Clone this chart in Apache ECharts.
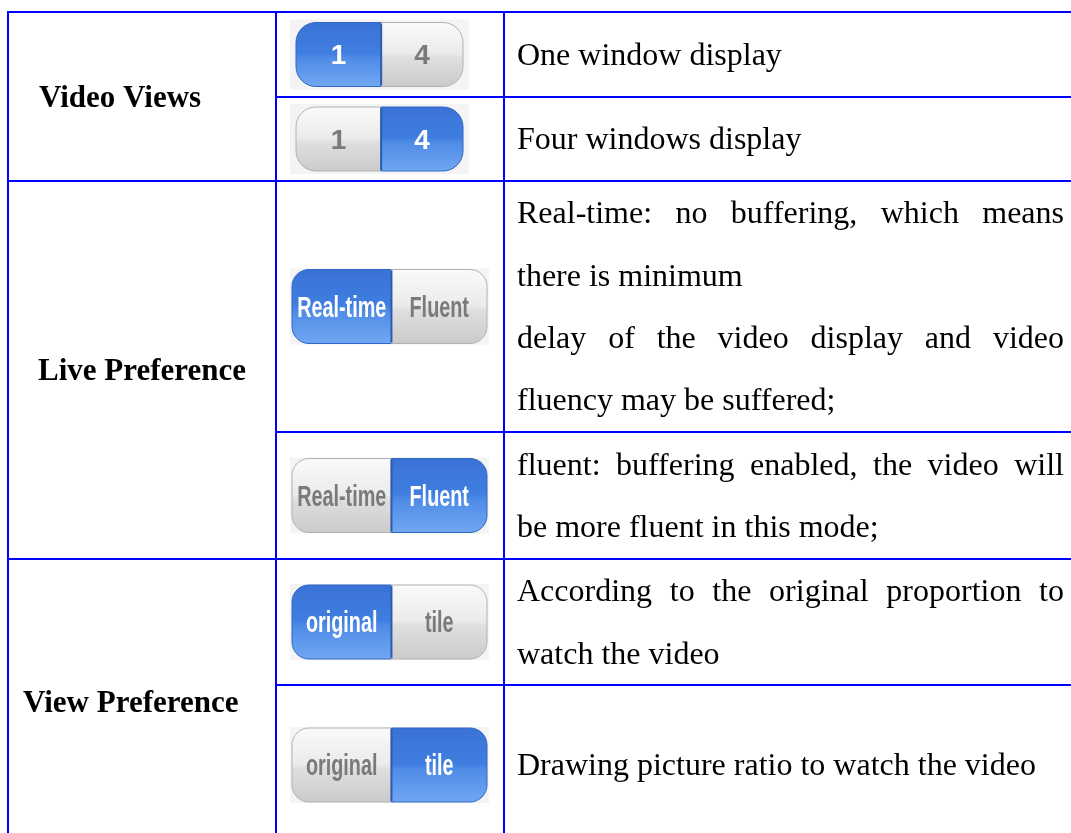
<!DOCTYPE html>
<html><head><meta charset="utf-8">
<script src="https://cdn.jsdelivr.net/npm/echarts@6/dist/echarts.min.js"></script>
<style>html,body{margin:0;padding:0;background:#fff}#c{width:1071px;height:833px}</style>
</head><body><div id="c"></div><script>
// ---- data ----
const groupLabels = ['Video Views', 'Live Preference', 'View Preference'];
const groupRowSpans = [[0, 1], [2, 3], [4, 5]];
const toggleLeft = ['1', '1', 'Real-time', 'Real-time', 'original', 'original'];
const toggleRight = ['4', '4', 'Fluent', 'Fluent', 'tile', 'tile'];
const toggleSelected = ['left', 'right', 'left', 'right', 'left', 'right'];
const descriptionLines = [
  ['One window display'],
  ['Four windows display'],
  ['Real-time: no buffering, which means', 'there is minimum', 'delay of the video display and video', 'fluency may be suffered;'],
  ['fluent: buffering enabled, the video will', 'be more fluent in this mode;'],
  ['According to the original proportion to', 'watch the video'],
  ['Drawing picture ratio to watch the video']
];
const justifiedLines = [[false], [false], [true, false, true, false], [true, false], [true, false], [false]];

// ---- layout / style ----
const layout = {
  colX: [8, 276, 504, 1077],
  rowY: [12, 97, 181, 432, 559, 685, 845],
  labelX: [39, 38, 23],
  textX: 517, textRight: 1064, lineGap: 62.3, textShift: 2,
  border: '#0000ff', borderW: 2,
  bodyFont: '32px "Times New Roman", "Liberation Serif", serif',
  labelFont: 'bold 31px "Times New Roman", "Liberation Serif", serif',
  btnX: 290,
  small: { w: 179, h: 70, padX: 6, padY: 3, r: 20, font: 'bold 28px Arial, "Liberation Sans", sans-serif', scaleX: 1 },
  large: { w: 199, h: 76, padX: 2, padY: 1, r: 17, font: 'bold 30px Arial, "Liberation Sans", sans-serif', scaleX: 0.66 }
};
const blueFill = { type: 'linear', x: 0, y: 0, x2: 0, y2: 1, colorStops: [
  { offset: 0, color: '#3a72d5' }, { offset: 0.48, color: '#3f7ee0' },
  { offset: 0.56, color: '#4f8ce7' }, { offset: 1, color: '#72a8f2' }] };
const grayFill = { type: 'linear', x: 0, y: 0, x2: 0, y2: 1, colorStops: [
  { offset: 0, color: '#fafafa' }, { offset: 0.48, color: '#ebebeb' },
  { offset: 0.56, color: '#dedede' }, { offset: 1, color: '#cbcbcb' }] };

const measureCtx = document.createElement('canvas').getContext('2d');
function measure(t, font) { measureCtx.font = font; return measureCtx.measureText(t).width; }

const chart = echarts.init(document.getElementById('c'), null, { renderer: 'canvas' });
const rowIdx = descriptionLines.map((d, i) => [i, i]);

function renderGrid(params, api) {
  const i = params.dataIndex;
  const c = layout.colX, r = layout.rowY;
  const firstInGroup = groupRowSpans.some(s => s[0] === i);
  const children = [];
  const style = { stroke: layout.border, lineWidth: layout.borderW };
  const a = api.coord([firstInGroup ? c[0] - 1 : c[1], r[i]]);
  const b = api.coord([c[3] + 1, r[i]]);
  children.push({ type: 'line', shape: { x1: a[0], y1: a[1], x2: b[0], y2: b[1] }, style });
  if (i === r.length - 2) {
    const a2 = api.coord([c[0] - 1, r[i + 1]]), b2 = api.coord([c[3] + 1, r[i + 1]]);
    children.push({ type: 'line', shape: { x1: a2[0], y1: a2[1], x2: b2[0], y2: b2[1] }, style });
  }
  c.forEach(x => {
    const p = api.coord([x, r[i]]), q = api.coord([x, r[i + 1]]);
    children.push({ type: 'line', shape: { x1: p[0], y1: p[1], x2: q[0], y2: q[1] }, style });
  });
  return { type: 'group', children };
}

function renderLabel(params, api) {
  const g = params.dataIndex;
  const span = groupRowSpans[g];
  const mid = (layout.rowY[span[0]] + layout.rowY[span[1] + 1]) / 2 + layout.textShift;
  const p = api.coord([layout.labelX[g], mid]);
  return { type: 'text', style: { text: groupLabels[g], x: p[0], y: p[1], font: layout.labelFont, fill: '#000', align: 'left', verticalAlign: 'middle' } };
}

function segText(txt, cx, cy, sel, g) {
  return {
    type: 'text', x: cx, y: cy, scaleX: g.scaleX,
    style: {
      text: txt, x: 0, y: 0, align: 'center', verticalAlign: 'middle', font: g.font,
      fill: sel ? '#ffffff' : '#7a7a7a',
      textShadowColor: sel ? 'rgba(0,0,0,0.25)' : '#ffffff', textShadowOffsetY: sel ? -1 : 1, textShadowBlur: 0
    }
  };
}

function renderToggle(params, api) {
  const i = params.dataIndex;
  const g = i < 2 ? layout.small : layout.large;
  const mid = (layout.rowY[i] + layout.rowY[i + 1]) / 2;
  const p0 = api.coord([layout.btnX, mid - g.h / 2]);
  const p1 = api.coord([layout.btnX + g.w, mid + g.h / 2]);
  const bw = p1[0] - p0[0], bh = p1[1] - p0[1];
  const px = p0[0] + g.padX, py = p0[1] + g.padY, pw = bw - 2 * g.padX, ph = bh - 2 * g.padY;
  const split = px + pw * 0.51;
  const leftSel = toggleSelected[i] === 'left';
  const children = [
    { type: 'rect', shape: { x: p0[0], y: p0[1], width: bw, height: bh }, style: { fill: '#f4f4f4' } },
    { type: 'rect', shape: { x: px, y: py, width: split - px, height: ph, r: [g.r, 0, 0, g.r] },
      style: { fill: leftSel ? blueFill : grayFill, stroke: leftSel ? '#3066c4' : '#b2b2b2', lineWidth: 1 } },
    { type: 'rect', shape: { x: split, y: py, width: px + pw - split, height: ph, r: [0, g.r, g.r, 0] },
      style: { fill: leftSel ? grayFill : blueFill, stroke: leftSel ? '#b2b2b2' : '#3066c4', lineWidth: 1 } },
    { type: 'line', shape: { x1: split, y1: py + 1, x2: split, y2: py + ph - 1 }, style: { stroke: '#2b5cae', lineWidth: 2 } },
    segText(toggleLeft[i], (px + split) / 2, py + ph / 2 + 2, leftSel, g),
    segText(toggleRight[i], (split + px + pw) / 2, py + ph / 2 + 2, !leftSel, g)
  ];
  return { type: 'group', children };
}

function renderDesc(params, api) {
  const i = params.dataIndex;
  const lines = descriptionLines[i];
  const mid = (layout.rowY[i] + layout.rowY[i + 1]) / 2 + layout.textShift;
  const font = layout.bodyFont;
  const children = [];
  lines.forEach((line, k) => {
    const yv = mid + (k - (lines.length - 1) / 2) * layout.lineGap;
    const y = api.coord([0, yv])[1];
    const x0 = api.coord([layout.textX, 0])[0];
    const x1 = api.coord([layout.textRight, 0])[0];
    const mk = (t, x) => ({ type: 'text', style: { text: t, x, y, font, fill: '#000', align: 'left', verticalAlign: 'middle' } });
    if (justifiedLines[i][k]) {
      const words = line.split(' ');
      const widths = words.map(w => measure(w, font));
      const total = widths.reduce((a, b) => a + b, 0);
      const gap = (x1 - x0 - total) / (words.length - 1);
      let x = x0;
      words.forEach((w, j) => { children.push(mk(w, x)); x += widths[j] + gap; });
    } else {
      children.push(mk(line, x0));
    }
  });
  return { type: 'group', children };
}

chart.setOption({
  animation: false,
  backgroundColor: '#ffffff',
  grid: { left: 0, right: 0, top: 0, bottom: 0 },
  xAxis: { type: 'value', min: 0, max: 1071, show: false },
  yAxis: { type: 'value', min: 0, max: 833, inverse: true, show: false },
  series: [
    { type: 'custom', name: 'grid', silent: true, data: rowIdx, renderItem: renderGrid },
    { type: 'custom', name: 'labels', silent: true, data: groupLabels.map((d, i) => [i, i]), renderItem: renderLabel },
    { type: 'custom', name: 'toggles', silent: true, data: rowIdx, renderItem: renderToggle },
    { type: 'custom', name: 'descriptions', silent: true, data: rowIdx, renderItem: renderDesc }
  ]
});
</script></body></html>
